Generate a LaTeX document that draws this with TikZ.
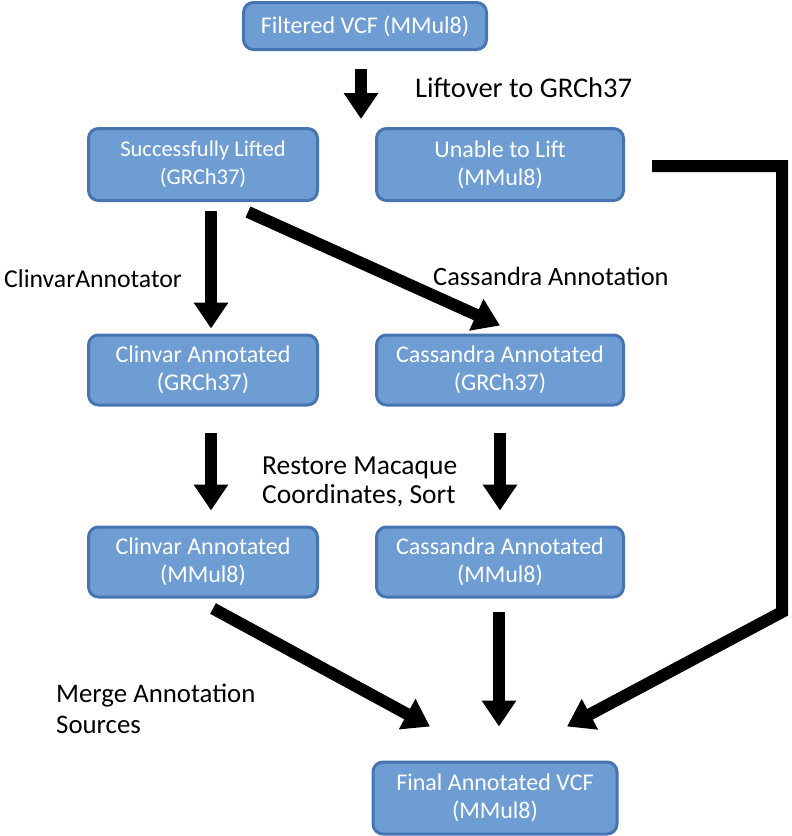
\documentclass[tikz,border=0pt]{standalone}
\usepackage{fontspec}
\setmainfont{Carlito}
\usetikzlibrary{arrows.meta,calc}
\definecolor{boxfill}{RGB}{110,157,212}
\definecolor{boxline}{RGB}{70,117,178}
\begin{document}
\begin{tikzpicture}[x=1pt,y=-1pt,
  box/.style={draw=boxline, line width=3pt, fill=boxfill, rounded corners=10pt,
    text=white, align=center, inner sep=0pt,
    font=\fontsize{24}{28}\selectfont},
  lab/.style={anchor=west, align=left, inner sep=0pt},
  arr/.style={line width=12pt, -{Triangle[width=33pt,length=26pt]}, line join=miter}]
\useasboundingbox (0,0) rectangle (792,836);
\node[box, minimum width=243pt, minimum height=47pt] (filt) at (365,26) {Filtered VCF (MMul8)};
\node[box, minimum width=229pt, minimum height=72pt, font=\fontsize{22.5}{28}\selectfont] (succ) at (203,164.5) {Successfully Lifted\\(GRCh37)};
\node[box, minimum width=247pt, minimum height=72pt] (unab) at (500,164.5) {Unable to Lift\\(MMul8)};
\node[box, minimum width=229pt, minimum height=70pt] (clinG) at (203,370) {Clinvar Annotated\\(GRCh37)};
\node[box, minimum width=247pt, minimum height=70pt] (cassG) at (500,370) {Cassandra Annotated\\(GRCh37)};
\node[box, minimum width=229pt, minimum height=70pt] (clinM) at (203,562) {Clinvar Annotated\\(MMul8)};
\node[box, minimum width=247pt, minimum height=70pt] (cassM) at (500,562) {Cassandra Annotated\\(MMul8)};
\node[box, minimum width=244pt, minimum height=72pt] (final) at (495,798) {Final Annotated VCF\\(MMul8)};

\node[lab, font=\fontsize{28.5}{30}\selectfont] (l1) at (415,88) {Liftover to GRCh37};
\node[lab, font=\fontsize{25.7}{30}\selectfont] (l2) at (4,279) {ClinvarAnnotator};
\node[lab, font=\fontsize{26.4}{30}\selectfont] (l3) at (433,276) {Cassandra Annotation};
\node[lab, font=\fontsize{27.5}{29}\selectfont] (l4) at (262,481.5) {Restore Macaque\\Coordinates, Sort};
\node[lab, font=\fontsize{26.8}{31}\selectfont] (l5) at (56,708.5) {Merge Annotation\\Sources};

\draw[arr] ([xshift=-4pt,yshift=-18pt]filt.south) -- ([xshift=-4pt,yshift=-68pt]filt.south);
\draw[arr] ([xshift=8pt,yshift=-9pt]succ.south) -- ([xshift=8pt,yshift=5pt]clinG.north);
\draw[arr] ([xshift=45pt,yshift=-10pt]succ.south) -- ([xshift=0pt,yshift=8pt]cassG.north);
\draw[arr] ([xshift=8pt,yshift=-26pt]clinG.south) -- ([xshift=8pt,yshift=15pt]clinM.north);
\draw[arr] ([yshift=-26pt]cassG.south) -- ([yshift=15pt]cassM.north);
\draw[arr] ([xshift=10pt,yshift=-10pt]clinM.south) -- ([xshift=-65pt,yshift=34pt]final.north);
\draw[arr] ([xshift=-1pt,yshift=-13pt]cassM.south) -- ([xshift=4pt,yshift=34pt]final.north);
\coordinate (c1) at (782,166);
\coordinate (c2) at (782,612);
\draw[arr] ([xshift=27pt,yshift=-1.5pt]unab.east) -- (c1) -- (c2) -- ([xshift=72pt,yshift=34pt]final.north);
\end{tikzpicture}
\end{document}
